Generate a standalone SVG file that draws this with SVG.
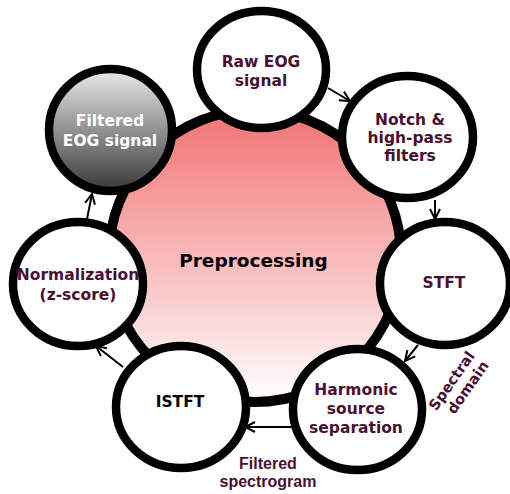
<svg xmlns="http://www.w3.org/2000/svg" width="510" height="494" viewBox="0 0 510 494">
<defs>
<linearGradient id="bigGrad" x1="0" y1="0" x2="0" y2="1">
<stop offset="0" stop-color="#f27272"/>
<stop offset="1" stop-color="#ffffff"/>
</linearGradient>
<linearGradient id="grayGrad" x1="0" y1="0" x2="0" y2="1">
<stop offset="0" stop-color="#ebebeb"/>
<stop offset="1" stop-color="#383838"/>
</linearGradient>
<marker id="arr" viewBox="0 0 12 12" refX="11" refY="6" markerWidth="12" markerHeight="12" markerUnits="userSpaceOnUse" orient="auto">
<path d="M1,1 L11,6 L1,11" fill="none" stroke="#000" stroke-width="2"/>
</marker>
</defs>
<style>
.node{fill:#fff;stroke:#000;stroke-width:8.5}
.lbl{font-family:"DejaVu Sans",Verdana,sans-serif;font-weight:bold;font-size:15.5px;fill:#4a1030;text-anchor:middle}
.conn{stroke:#000;stroke-width:2;fill:none;marker-end:url(#arr)}
.edge{font-family:"Liberation Sans",Arial,sans-serif;font-weight:bold;font-size:16px;fill:#4a1030;text-anchor:middle}
.edge2{font-family:"DejaVu Sans",Verdana,sans-serif;font-weight:bold;font-size:14.5px;fill:#4a1030;text-anchor:middle}
</style>
<g id="center">
<circle cx="255" cy="256" r="146" fill="url(#bigGrad)" stroke="#000" stroke-width="10"/>
<text x="253.5" y="267" class="lbl" style="font-size:18.5px;fill:#000">Preprocessing</text>
</g>
<g id="connectors">
<line class="conn" x1="328" y1="88" x2="350" y2="101"/>
<line class="conn" x1="435" y1="200" x2="435" y2="219"/>
<line class="conn" x1="418" y1="345" x2="405" y2="361"/>
<line class="conn" x1="293" y1="427" x2="245" y2="427"/>
<line class="conn" x1="123" y1="367" x2="96" y2="346"/>
<line class="conn" x1="87" y1="219" x2="92" y2="194"/>
</g>
<g id="raw">
<ellipse class="node" cx="261.5" cy="69.5" rx="64.5" ry="58.5"/>
<text class="lbl" x="261" y="67">Raw EOG</text>
<text class="lbl" x="261" y="86">signal</text>
</g>
<g id="notch">
<ellipse class="node" cx="407.5" cy="137" rx="65.5" ry="61"/>
<text class="lbl" x="410" y="125">Notch &amp;</text>
<text class="lbl" x="410" y="143">high-pass</text>
<text class="lbl" x="410" y="161">filters</text>
</g>
<g id="stft">
<ellipse class="node" cx="445" cy="283.5" rx="65" ry="61.5"/>
<text class="lbl" x="444" y="288">STFT</text>
</g>
<g id="harmonic">
<ellipse class="node" cx="357.5" cy="409.5" rx="64.5" ry="60.5"/>
<text class="lbl" x="356" y="395">Harmonic</text>
<text class="lbl" x="356" y="414">source</text>
<text class="lbl" x="356" y="433">separation</text>
</g>
<g id="istft">
<ellipse class="node" cx="181" cy="407" rx="65" ry="61"/>
<text class="lbl" x="180" y="407" style="fill:#000">ISTFT</text>
</g>
<g id="normalization">
<ellipse class="node" cx="78" cy="284" rx="65" ry="62"/>
<text class="lbl" x="78" y="280">Normalization</text>
<text class="lbl" x="78" y="300">(z-score)</text>
</g>
<g id="filtered">
<ellipse class="node" cx="110.5" cy="130" rx="61.5" ry="61" style="fill:url(#grayGrad)"/>
<text class="lbl" x="110" y="126" style="fill:#fff">Filtered</text>
<text class="lbl" x="110" y="146" style="fill:#fff">EOG signal</text>
</g>
<g id="edge-labels">
<text class="edge" x="268" y="469">Filtered</text>
<text class="edge" x="268" y="487">spectrogram</text>
<g transform="translate(459,386) rotate(-55)">
<text class="edge2" x="0" y="-4">Spectral</text>
<text class="edge2" x="4" y="13">domain</text>
</g>
</g>
</svg>
